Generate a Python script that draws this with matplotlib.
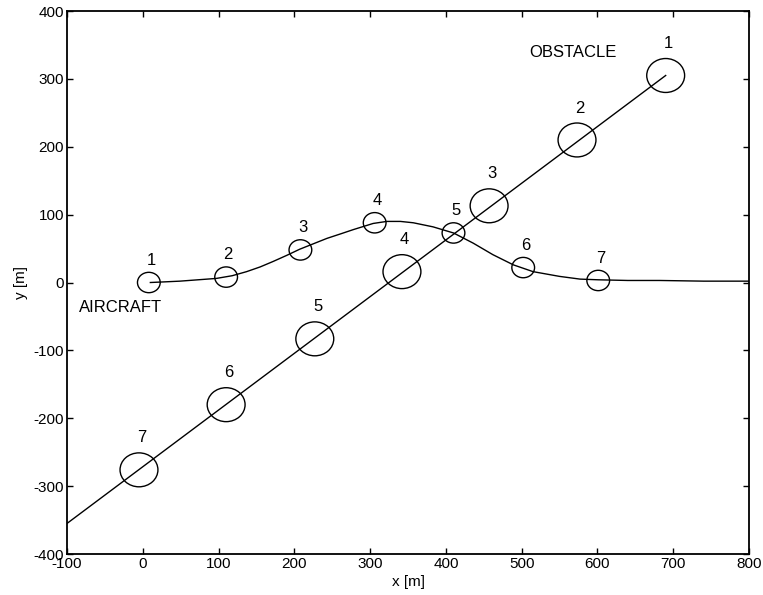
import matplotlib
matplotlib.use("Agg")
import matplotlib.pyplot as plt
from matplotlib.patches import Ellipse

plt.rcParams['font.family'] = ['Liberation Sans', 'DejaVu Sans']
plt.rcParams['axes.unicode_minus'] = False

# aircraft path
path_x = [10, 30, 49, 73, 97, 118, 137, 155, 172, 190, 207, 225, 243, 262, 278, 304,
          322, 340, 357, 383, 410, 436, 462, 489, 515, 550, 577, 601, 640, 682, 740, 800]
path_y = [0, 1, 2, 4, 6, 10, 16, 23, 31, 40, 49, 57, 65, 72, 78, 87,
          90, 90, 88, 82, 73, 58, 41, 26, 16, 9, 5, 4, 3, 3, 2, 2]

# aircraft positions (numbered circles)
ac_x = [8, 110, 208, 306, 410, 502, 601]
ac_y = [0, 8, 48, 88, 73, 22, 3]
ac_r = 15

# obstacle positions and track
ob_x = [690, 573, 457, 342, 227, 110, -5]
ob_y = [305, 210, 113, 16, -83, -180, -276]
ob_r = 25
track_x = [-100, 690]
track_y = [-355, 305]

labels = ['1', '2', '3', '4', '5', '6', '7']

fig = plt.figure(figsize=(7.63, 5.95), dpi=100)
ax = fig.add_axes([0.0878, 0.0689, 0.8939, 0.9126])

ax.plot(path_x, path_y, color='black', lw=1.0)
ax.plot(track_x, track_y, color='black', lw=1.0)

for x, y, s in zip(ac_x, ac_y, labels):
    ax.add_patch(Ellipse((x, y), 2 * ac_r, 2 * ac_r, fill=False, ec='black', lw=1.0))
    ax.annotate(s, (x, y), xytext=(1.5, 16), textcoords='offset points',
                ha='center', va='center', fontsize=12)

for x, y, s in zip(ob_x, ob_y, labels):
    ax.add_patch(Ellipse((x, y), 2 * ob_r, 2 * ob_r, fill=False, ec='black', lw=1.0))
    ax.annotate(s, (x, y), xytext=(2, 23), textcoords='offset points',
                ha='center', va='center', fontsize=12)

ax.text(-84, -37, 'AIRCRAFT', fontsize=12, ha='left', va='center')
ax.text(510, 339, 'OBSTACLE', fontsize=12, ha='left', va='center')

ax.set_xlim(-100, 800)
ax.set_ylim(-400, 400)
ax.set_xticks(range(-100, 801, 100))
ax.set_yticks(range(-400, 401, 100))
ax.tick_params(direction='in', length=4, width=1, labelsize=11, pad=2,
               top=True, right=True)
for sp in ax.spines.values():
    sp.set_linewidth(1.3)

ax.set_xlabel('x [m]', fontsize=11, labelpad=3)
ax.set_ylabel('y [m]', fontsize=11, labelpad=4)

fig.savefig('out.png', dpi=100)
